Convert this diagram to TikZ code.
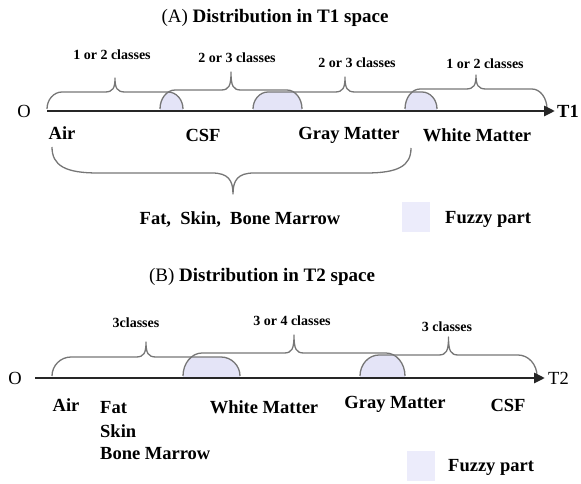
\documentclass[tikz,border=0pt]{standalone}
\usepackage{fontspec}
\setmainfont{Liberation Serif}
\usetikzlibrary{arrows.meta}
\definecolor{fuzzy}{RGB}{228,228,247}
\definecolor{fuzzykey}{RGB}{236,236,251}
\definecolor{bracegray}{RGB}{118,118,118}
\tikzset{
  bracestyle/.style={draw=bracegray, line width=1.3pt, line join=round},
  axisstyle/.style={draw=black!85, line width=2.8pt, -{Triangle[length=11pt,width=10pt]}},
  lbl/.style={font=\fontsize{18.5}{20}\selectfont\bfseries, inner sep=0pt},
  cls/.style={font=\fontsize{14}{16}\selectfont\bfseries, inner sep=0pt},
  ttl/.style={font=\fontsize{19}{21}\selectfont, inner sep=0pt},
  origin/.style={font=\fontsize{18.5}{20}\selectfont, inner sep=0pt},
  fuzzyfill/.style={fill=fuzzy, draw=none},
  keybox/.style={fill=fuzzykey, draw=none, minimum width=28pt, minimum height=30pt, inner sep=0pt},
}
% #1 x left, #2 x right, #3 y bottom, #4 y flat, #5 y tip, #6 corner radius
\newcommand\UpBrace[6]{%
  \draw[bracestyle] (#1,#3) .. controls (#1,{#4+0.45*(#3-#4)}) and ({#1+0.45*#6},#4) .. ({#1+#6},#4)
    -- ({(#1+#2)/2-10},#4) .. controls ({(#1+#2)/2-2},#4) and ({(#1+#2)/2},{#4-4}) .. ({(#1+#2)/2},#5)
    .. controls ({(#1+#2)/2},{#4-4}) and ({(#1+#2)/2+2},#4) .. ({(#1+#2)/2+10},#4)
    -- ({#2-#6},#4) .. controls ({#2-0.45*#6},#4) and (#2,{#4+0.45*(#3-#4)}) .. (#2,#3);}
% overlap of two braces: #1 left end of right brace, #2 right end of left brace,
% #3 y axis, #4 y bottom of brace ends, #5 flat of left brace, #6 flat of right brace, #7 radius
\newcommand\FuzzyBump[7]{%
  \begin{scope}
    \clip (#1,#3) -- (#1,#4) .. controls (#1,{#6+0.45*(#4-#6)}) and ({#1+0.45*#7},#6) .. ({#1+#7},#6)
      -- ({#2+40},#6) -- ({#2+40},#3) -- cycle;
    \fill[fuzzyfill] ({#1-40},#3) -- ({#1-40},#5) -- ({#2-#7},#5)
      .. controls ({#2-0.45*#7},#5) and (#2,{#5+0.45*(#4-#5)}) .. (#2,#4) -- (#2,#3) -- cycle;
  \end{scope}}
\begin{document}
\begin{tikzpicture}[x=1pt,y=-1pt]
\useasboundingbox (0,0) rectangle (581,484);
% ---------------- Panel A ----------------
\node[ttl] (titleA) at (275,18) {(A) \textbf{Distribution in T1 space}};
\FuzzyBump{160}{183}{111}{109}{92}{90}{15}
\FuzzyBump{253}{302}{111}{109}{90}{92}{15}
\FuzzyBump{405}{437}{111}{109}{92}{89}{15}
\UpBrace{47}{183}{109}{92}{78}{15}
\UpBrace{160}{302}{109}{90}{72}{15}
\UpBrace{253}{437}{109}{92}{77}{15}
\UpBrace{405}{547}{109}{89}{75}{15}
\node[cls] (cA1) at (112,55) {1 or 2 classes};
\node[cls] (cA2) at (237,58) {2 or 3 classes};
\node[cls] (cA3) at (357,63) {2 or 3 classes};
\node[cls] (cA4) at (485,64) {1 or 2 classes};
\coordinate (aStart) at (47,111);
\coordinate (aEnd) at (555,111);
\draw[axisstyle] (aStart) -- (aEnd);
\node[origin] (oA) at (24,111) {O};
\node[lbl, anchor=west] (tA) at (557,111) {T1};
\node[lbl] (airA) at (62,133) {Air};
\node[lbl] (csfA) at (203,135) {CSF};
\node[lbl] (gmA) at (349,135) {Gray Matter};
\node[lbl] (wmA) at (477,135) {White Matter};
\draw[bracestyle] (52,147) .. controls (52,166) and (66,173) .. (98,173)
  -- (212,173) .. controls (228,173) and (233,180) .. (233,194)
  .. controls (233,180) and (238,173) .. (254,173)
  -- (366,173) .. controls (398,173) and (411,166) .. (411,148);
\node[lbl] (fsbA) at (240,220) {Fat,~~Skin,~~Bone Marrow};
\node[keybox] (keyA) at (416,217) {};
\node[lbl, anchor=west] (keyAtext) at (445,219) {Fuzzy part};
% ---------------- Panel B ----------------
\node[ttl] (titleB) at (262,277) {(B) \textbf{Distribution in T2 space}};
\FuzzyBump{183}{240}{378}{376}{357}{353}{19}
\FuzzyBump{360}{405}{378}{376}{353}{355}{19}
\UpBrace{52}{240}{376}{357}{342}{19}
\UpBrace{183}{405}{376}{353}{335}{19}
\UpBrace{360}{537}{376}{355}{337}{19}
\node[cls] (cB1) at (136,323) {3classes};
\node[cls] (cB2) at (292,321) {3 or 4 classes};
\node[cls] (cB3) at (447,327) {3 classes};
\coordinate (bStart) at (35,378);
\coordinate (bEnd) at (545,378);
\draw[axisstyle] (bStart) -- (bEnd);
\node[origin] (oB) at (15,378) {O};
\node[origin, anchor=west] (tB) at (548,378) {T2};
\node[lbl] (airB) at (66,405) {Air};
\node[lbl, anchor=west] (fatB) at (100,408) {Fat};
\node[lbl, anchor=west] (skinB) at (100,431) {Skin};
\node[lbl, anchor=west] (bmB) at (100,454) {Bone Marrow};
\node[lbl] (wmB) at (264,407) {White Matter};
\node[lbl] (gmB) at (395,404) {Gray Matter};
\node[lbl] (csfB) at (508,405) {CSF};
\node[keybox] (keyB) at (421,466) {};
\node[lbl, anchor=west] (keyBtext) at (448,467) {Fuzzy part};
\end{tikzpicture}
\end{document}
